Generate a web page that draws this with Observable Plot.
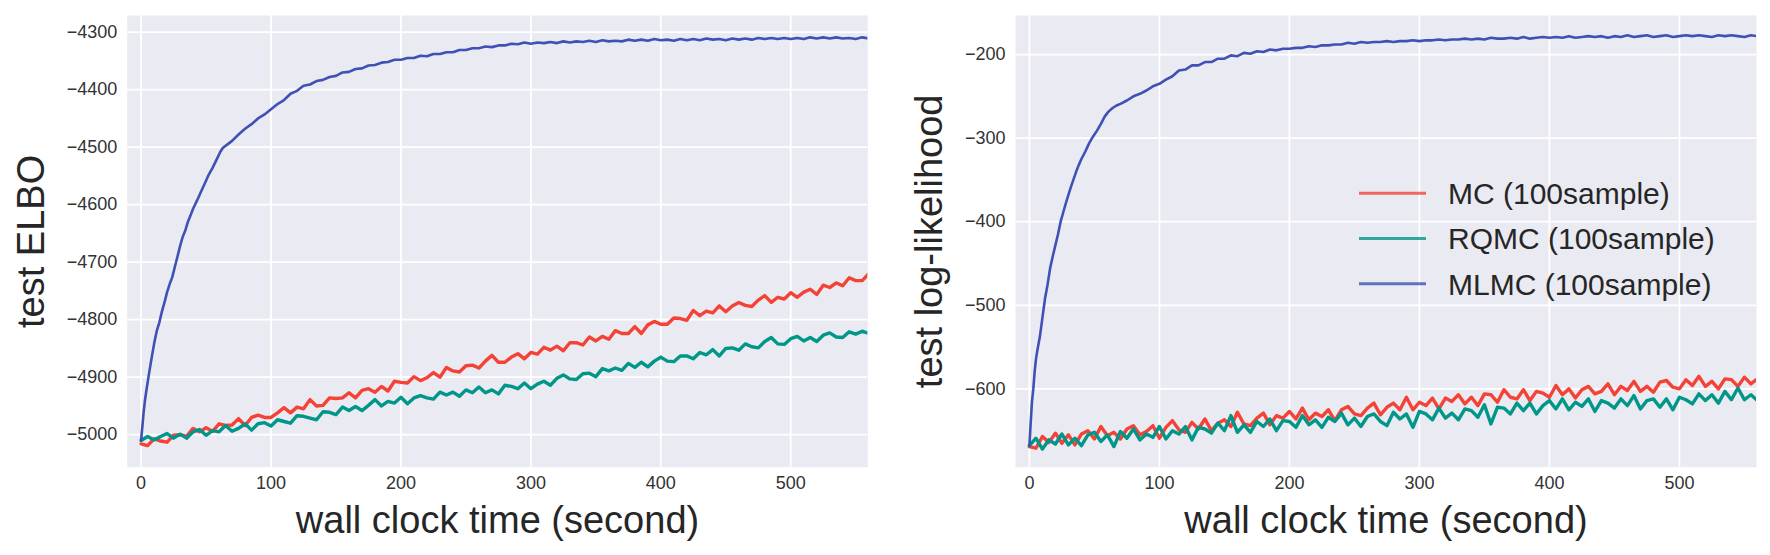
<!DOCTYPE html>
<html><head><meta charset="utf-8">
<script src="https://cdn.jsdelivr.net/npm/d3@7"></script>
<script src="https://cdn.jsdelivr.net/npm/@observablehq/plot@0.6"></script>
<style>
html,body{margin:0;padding:0;background:#fff;}
#root{position:relative;width:1770px;height:555px;overflow:hidden;font-family:"Liberation Sans",Arial,sans-serif;}
#root > svg{position:absolute;top:0;}
</style></head><body><div id="root"></div>
<script>
// ---- data ----
const seriesNames = ["MC (100sample)", "RQMC (100sample)", "MLMC (100sample)"];
const seriesColors = ["#F44336", "#009688", "#3F51B5"];
const xTicks = [0, 100, 200, 300, 400, 500];
const elboTicks = [-5000, -4900, -4800, -4700, -4600, -4500, -4400, -4300];
const llTicks = [-600, -500, -400, -300, -200];
const xLabel = "wall clock time (second)";
const elboLabel = "test ELBO";
const llLabel = "test log-likelihood";

const timeGrid = [0,5,10,15,20,25,30,35,40,45,50,55,60,65,70,75,80,85,90,95,
100,105,110,115,120,125,130,135,140,145,150,155,160,165,170,175,180,185,190,195,
200,205,210,215,220,225,230,235,240,245,250,255,260,265,270,275,280,285,290,295,
300,305,310,315,320,325,330,335,340,345,350,355,360,365,370,375,380,385,390,395,
400,405,410,415,420,425,430,435,440,445,450,455,460,465,470,475,480,485,490,495,
500,505,510,515,520,525,530,535,540,545,550,555,560];

const elboMC = [-5016,-5019,-5007,-5011,-5013,-5001,-5000,-5003,-4989,-4995,
-4988,-4994,-4981,-4984,-4983,-4972,-4984,-4970,-4966,-4970,
-4970,-4962,-4953,-4962,-4952,-4955,-4939,-4950,-4949,-4936,
-4937,-4936,-4927,-4936,-4923,-4920,-4926,-4916,-4924,-4907,
-4909,-4910,-4899,-4906,-4901,-4892,-4900,-4883,-4889,-4891,
-4880,-4879,-4884,-4872,-4862,-4874,-4874,-4865,-4859,-4868,
-4857,-4860,-4848,-4853,-4846,-4854,-4840,-4840,-4844,-4830,
-4837,-4829,-4834,-4819,-4824,-4824,-4812,-4824,-4809,-4803,
-4808,-4808,-4797,-4798,-4801,-4784,-4793,-4785,-4788,-4776,
-4786,-4776,-4770,-4775,-4777,-4766,-4758,-4770,-4761,-4764,
-4753,-4761,-4752,-4747,-4756,-4740,-4744,-4736,-4741,-4727,
-4732,-4732,-4720];

const elboRQMC = [-5010,-5003,-5009,-5003,-4998,-5006,-4999,-5006,-4995,-4991,
-5001,-4993,-4995,-4984,-4994,-4989,-4981,-4992,-4981,-4979,
-4985,-4974,-4977,-4980,-4967,-4968,-4971,-4974,-4960,-4961,
-4965,-4952,-4958,-4951,-4958,-4949,-4939,-4950,-4942,-4945,
-4935,-4946,-4936,-4932,-4936,-4938,-4926,-4931,-4926,-4933,
-4922,-4927,-4917,-4927,-4922,-4929,-4914,-4916,-4920,-4910,
-4920,-4912,-4907,-4914,-4902,-4896,-4903,-4904,-4894,-4893,
-4899,-4885,-4889,-4884,-4888,-4876,-4883,-4874,-4882,-4872,
-4865,-4872,-4873,-4863,-4863,-4868,-4857,-4861,-4852,-4863,
-4850,-4849,-4853,-4842,-4847,-4849,-4838,-4831,-4842,-4843,
-4833,-4829,-4837,-4831,-4838,-4827,-4823,-4830,-4831,-4821,
-4825,-4820,-4824];

const timeElboMLMC = [0,1,2,3,4,6,8,10,12,14,16,18,20,22,24,26,28,30,32,34,36,38,40,
43,46,49,52,55,58,61,63,66,70,75,80,85,90,95,
100,105,110,115,120,125,130,135,140,145,150,155,160,165,170,175,180,185,190,195,
200,205,210,215,220,225,230,235,240,245,250,255,260,265,270,275,280,285,290,295,
300,305,310,315,320,325,330,335,340,345,350,355,360,365,370,375,380,385,390,395,
400,405,410,415,420,425,430,435,440,445,450,455,460,465,470,475,480,485,490,495,
500,505,510,515,520,525,530,535,540,545,550,555,560];

const elboMLMC = [-5010,-4985,-4960,-4940,-4924,-4895,-4868,-4842,-4820,-4805,-4786,-4770,-4752,
-4738,-4726,-4708,-4690,-4672,-4656,-4645,-4630,-4619,-4607,
-4593,-4578,-4563,-4548,-4536,-4522,-4508,-4501,-4496,-4489,-4478,-4468,-4460,-4450,-4443,
-4434,-4425,-4418,-4407,-4402,-4393,-4391,-4385,-4383,-4378,
-4376,-4370,-4369,-4364,-4363,-4358,-4357,-4353,-4352,-4348,
-4348,-4345,-4345,-4341,-4342,-4338,-4338,-4335,-4335,-4331,
-4331,-4328,-4328,-4325,-4326,-4323,-4323,-4320,-4321,-4318,
-4320,-4318,-4319,-4317,-4319,-4316,-4318,-4316,-4317,-4315,
-4317,-4314,-4316,-4315,-4316,-4313,-4315,-4313,-4315,-4312,
-4314,-4313,-4315,-4312,-4314,-4312,-4314,-4311,-4313,-4312,
-4314,-4311,-4313,-4311,-4313,-4310,-4312,-4310,-4312,-4310,
-4312,-4310,-4312,-4309,-4311,-4309,-4311,-4309,-4311,-4310,
-4312,-4309,-4311];

const llMC = [-669,-671,-657,-664,-653,-665,-655,-667,-654,-650,
-660,-645,-656,-652,-660,-648,-644,-655,-651,-644,
-659,-646,-638,-649,-652,-640,-648,-636,-650,-641,
-637,-645,-628,-642,-644,-635,-629,-643,-632,-635,
-627,-636,-623,-637,-629,-633,-625,-638,-625,-621,
-630,-632,-623,-617,-631,-622,-617,-625,-610,-625,
-616,-620,-611,-624,-611,-615,-607,-618,-610,-620,
-606,-607,-616,-601,-610,-612,-601,-614,-603,-605,
-610,-596,-607,-600,-611,-601,-597,-606,-603,-594,
-607,-597,-602,-591,-603,-597,-604,-592,-590,-598,
-600,-589,-596,-585,-597,-591,-600,-588,-589,-597,
-586,-594,-588];

const llRQMC = [-668,-659,-672,-661,-666,-654,-667,-659,-668,-655,
-652,-663,-655,-669,-651,-659,-648,-661,-654,-658,
-645,-660,-650,-654,-645,-661,-646,-648,-653,-641,
-650,-632,-652,-643,-652,-639,-645,-636,-650,-638,
-639,-646,-632,-643,-637,-646,-634,-639,-629,-643,
-635,-645,-633,-630,-639,-644,-628,-636,-630,-646,
-627,-630,-637,-623,-635,-629,-637,-624,-626,-634,
-619,-642,-622,-623,-630,-617,-626,-617,-630,-620,
-614,-624,-612,-625,-616,-621,-612,-627,-614,-617,
-623,-612,-620,-608,-624,-614,-612,-622,-612,-625,
-610,-613,-618,-606,-614,-607,-617,-603,-613,-599,
-613,-607,-614];

const timeLlMLMC = [0,1,2,3,4,5,6,8,10,12,14,16,18,20,22,24,26,28,30,32,34,36,38,40,
43,46,49,52,55,58,61,64,67,70,75,80,85,90,95,
100,105,110,115,120,125,130,135,140,145,150,155,160,165,170,175,180,185,190,195,
200,205,210,215,220,225,230,235,240,245,250,255,260,265,270,275,280,285,290,295,
300,305,310,315,320,325,330,335,340,345,350,355,360,365,370,375,380,385,390,395,
400,405,410,415,420,425,430,435,440,445,450,455,460,465,470,475,480,485,490,495,
500,505,510,515,520,525,530,535,540,545,550,555,560];

const llMLMC = [-668,-640,-615,-600,-580,-565,-555,-538,-515,-492,-475,-455,-441,-428,-415,-400,
-389,-378,-368,-358,-349,-340,-332,-325,
-316,-306,-298,-291,-283,-274,-268,-264,-261,-259,-255,-250,-247,-243,-238,
-235,-230,-226,-219,-218,-213,-213,-209,-209,-205,
-205,-201,-202,-198,-199,-196,-197,-194,-195,-193,
-193,-192,-192,-190,-191,-189,-189,-188,-188,-186,
-187,-185,-186,-185,-185,-184,-185,-184,-184,-183,
-184,-183,-183,-182,-183,-182,-182,-181,-182,-181,
-182,-180,-181,-181,-180,-181,-179,-181,-180,-179,
-180,-179,-180,-178,-180,-179,-178,-179,-178,-180,
-178,-179,-177,-179,-178,-177,-179,-178,-177,-179,
-178,-177,-178,-177,-178,-179,-177,-178,-177,-178,
-179,-177,-178];

// ---- drawing ----
const FONT = "'Liberation Sans', Arial, sans-serif";
const fmt = d3.format("d");
const toRows = (ts, vs) => ts.map((t, i) => ({t, v: vs[i]}));
const lineWidths = [3.4, 3.4, 2.6];

function panel(o) {
  const grid = {stroke: "white", strokeOpacity: 1, strokeWidth: 1.8};
  const svg = Plot.plot({
    width: o.width, height: 555,
    marginTop: 15, marginBottom: 88.3, marginLeft: o.marginLeft, marginRight: o.marginRight,
    style: {fontFamily: FONT, background: "transparent", color: "#333333", overflow: "visible"},
    x: {domain: [-10.7, 559.3]},
    y: {domain: o.yDomain},
    marks: [
      Plot.frame({fill: "#EAEAF2", stroke: "none"}),
      Plot.gridX({ticks: xTicks, ...grid}),
      Plot.gridY({ticks: o.yTicks, ...grid}),
      ...o.series.map((s, i) => Plot.line(s, {x: "t", y: "v", stroke: seriesColors[i],
        strokeWidth: lineWidths[i], strokeOpacity: 1, clip: true})),
      Plot.axisX({ticks: xTicks, tickSize: 0, tickPadding: 9, tickFormat: fmt, fontSize: 18, label: null}),
      Plot.axisY({ticks: o.yTicks, tickSize: 0, tickPadding: 10, tickFormat: fmt, fontSize: 18, label: null}),
      Plot.text([xLabel], {text: d => d, frameAnchor: "bottom", dy: 65.3, lineAnchor: "bottom", fontSize: 38, fill: "#262626"}),
      Plot.text([o.yLabel], {text: d => d, frameAnchor: "left", rotate: -90, dx: o.yLabelDx,
        lineAnchor: "bottom", textAnchor: "middle", fontSize: 38, fill: "#262626"})
    ]
  });
  svg.style.left = o.left + "px";
  return svg;
}

const root = document.getElementById("root");
root.appendChild(panel({
  left: 0, width: 890, marginLeft: 126.7, marginRight: 22.7,
  yDomain: [-5056.5, -4271], yTicks: elboTicks, yLabel: elboLabel, yLabelDx: -83.4,
  series: [toRows(timeGrid, elboMC), toRows(timeGrid, elboRQMC), toRows(timeElboMLMC, elboMLMC)]
}));
root.appendChild(panel({
  left: 890, width: 880, marginLeft: 125, marginRight: 14,
  yDomain: [-693.7, -153.3], yTicks: llTicks, yLabel: llLabel, yLabelDx: -73.3,
  series: [toRows(timeGrid, llMC), toRows(timeGrid, llRQMC), toRows(timeLlMLMC, llMLMC)]
}));

// legend (right panel)
const leg = d3.select(root).append("svg")
  .attr("width", 1770).attr("height", 555).style("left", "0px").style("pointer-events", "none");
const items = leg.selectAll("g").data(seriesNames).join("g")
  .attr("transform", (d, i) => `translate(0,${193.3 + i * 45.2})`);
items.append("line").attr("x1", 1359).attr("x2", 1426).attr("y1", 0).attr("y2", 0)
  .attr("stroke", (d, i) => seriesColors[i]).attr("stroke-width", 3).attr("stroke-opacity", 0.8);
items.append("text").attr("x", 1448).attr("y", 10.8).text(d => d)
  .attr("font-family", FONT).attr("font-size", 30).attr("fill", "#262626");
</script></body></html>
